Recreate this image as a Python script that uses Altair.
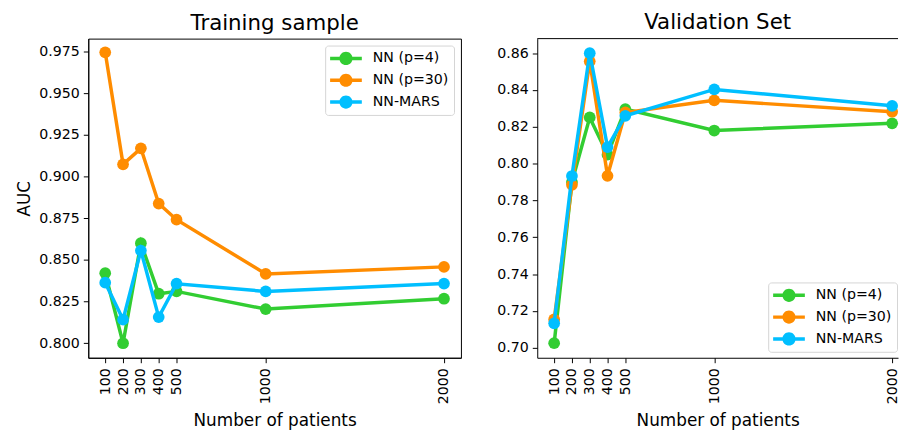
import altair as alt
import pandas as pd

sizes = [100, 200, 300, 400, 500, 1000, 2000]
series = ["NN (p=4)", "NN (p=30)", "NN-MARS"]
colors = ["#32CD32", "#FF8C00", "#00BFFF"]

train_nn4 = [0.842, 0.800, 0.860, 0.8297, 0.8311, 0.8205, 0.8267]
train_nn30 = [0.9745, 0.9073, 0.9169, 0.8838, 0.8741, 0.8416, 0.8458]
train_mars = [0.8363, 0.8142, 0.8556, 0.8157, 0.8357, 0.8311, 0.8358]

val_nn4 = [0.7025, 0.790, 0.8251, 0.8049, 0.8296, 0.818, 0.8219]
val_nn30 = [0.7154, 0.7885, 0.8556, 0.7934, 0.8278, 0.8344, 0.8282]
val_mars = [0.7133, 0.7933, 0.860, 0.809, 0.826, 0.8403, 0.8314]

train_ticks = [0.800, 0.825, 0.850, 0.875, 0.900, 0.925, 0.950, 0.975]
val_ticks = [0.70, 0.72, 0.74, 0.76, 0.78, 0.80, 0.82, 0.84, 0.86]

FONT = "DejaVu Sans"
SYMBOL = ("M-2,-0.22L2,-0.22L2,0.22L-2,0.22Z "
          "M0.83,0A0.83,0.83 0 1,1 -0.83,0A0.83,0.83 0 1,1 0.83,0Z")


def make_df(vals):
    rows = []
    for s, v in zip(series, vals):
        for n, a in zip(sizes, v):
            rows.append({"n": n, "auc": a, "series": s})
    return pd.DataFrame(rows)


def panel(vals, title, ydom, yticks, yfmt, xdom, width, legpos, ytitle, frame):
    df = make_df(vals)
    xenc = alt.X("n:Q", scale=alt.Scale(domain=xdom, nice=False, zero=False),
                 axis=alt.Axis(values=sizes, labelAngle=270, format="d",
                               title="Number of patients", titlePadding=9,
                               labelPadding=5))
    if ytitle:
        yaxis = alt.Axis(values=yticks, format=yfmt, labelPadding=4, titlePadding=5,
                         title=ytitle)
    else:
        yaxis = alt.Axis(values=yticks, format=yfmt, labelPadding=4, title=None)
    yenc = alt.Y("auc:Q", scale=alt.Scale(domain=ydom, nice=False, zero=False), axis=yaxis)
    common = dict(title=None, strokeColor="#d4d4d4",
                  cornerRadius=3, fillColor="white", padding=5,
                  labelFont=FONT, labelFontSize=14.3, labelColor="black",
                  symbolType=SYMBOL, symbolSize=256, symbolStrokeWidth=0,
                  symbolOpacity=1, rowPadding=6, symbolOffset=8, labelOffset=19)
    if legpos == "top-right":
        leg = alt.Legend(orient="top-right", offset=7, **common)
    else:
        leg = alt.Legend(orient="none", legendX=width - 131, legendY=246, **common)
    cenc = alt.Color("series:N", scale=alt.Scale(domain=series, range=colors), legend=leg)
    layers = []
    for s, c in zip(series, colors):
        base = alt.Chart(df).transform_filter(alt.datum.series == s)
        layers.append(base.mark_line(color=c, strokeWidth=3.5).encode(x=xenc, y=yenc))
        layers.append(base.mark_circle(size=140, opacity=1).encode(x=xenc, y=yenc, color=cenc))
    if not frame:
        top = alt.Chart(pd.DataFrame({"k": [0]})).mark_rule(color="black", strokeWidth=1).encode(
            x=alt.value(0), x2=alt.value(width), y=alt.value(0))
        layers.append(top)
    ch = alt.layer(*layers).properties(
        width=width, height=322,
        title=alt.TitleParams(title, fontSize=21.5, font=FONT, fontWeight="normal",
                              color="black", offset=4.5, anchor="middle"),
    )
    if frame:
        ch = ch.properties(view=alt.ViewBackground(stroke="black", strokeWidth=1))
    else:
        ch = ch.properties(view=alt.ViewBackground(stroke="transparent"))
    return ch


left = panel([train_nn4, train_nn30, train_mars], "Training sample",
             [0.7913, 0.9827], train_ticks, ".3f", [5, 2095], 376, "top-right", "AUC", True)
right = panel([val_nn4, val_nn30, val_mars], "Validation Set",
              [0.6946, 0.8679], val_ticks, ".2f", [5, 2033], 364, "bottom-right", None, False)

chart = alt.hconcat(left, right, spacing=34).resolve_scale(color="independent").resolve_legend(
    color="independent").properties(
    padding={"left": 7, "top": 2, "right": 0, "bottom": 0}
).configure_axis(
    grid=False, domain=True, domainColor="black", domainWidth=1,
    tickColor="black", tickSize=5, tickWidth=1,
    labelFont=FONT, labelFontSize=14.3, labelColor="black",
    titleFont=FONT, titleFontSize=17, titleFontWeight="normal", titleColor="black",
).configure_view(strokeWidth=1)

chart.save("out.html", embed_options={"renderer": "svg", "actions": False})
